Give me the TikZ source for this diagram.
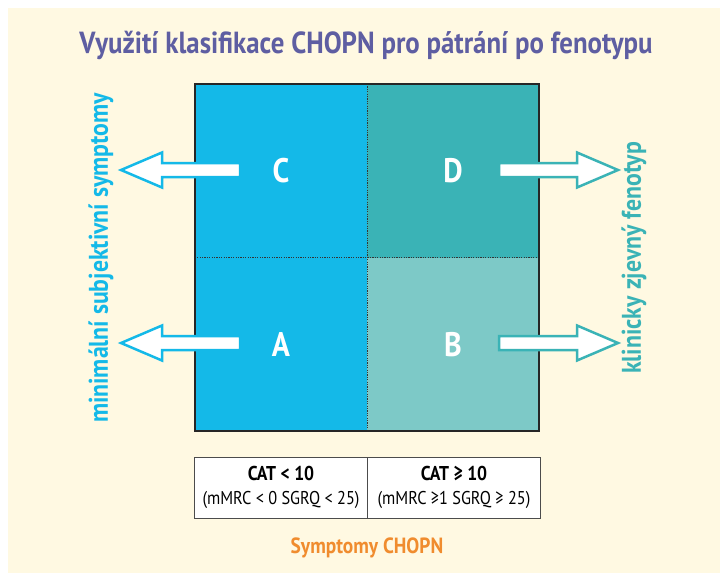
\documentclass[tikz,border=0pt]{standalone}
\usepackage{fontspec}
\setmainfont{PT Sans}
\newfontfamily\narrowfont{PT Sans}[FakeStretch=0.88]
\usetikzlibrary{positioning}

\definecolor{cream}{HTML}{FFF9E2}
\definecolor{titlepurple}{HTML}{5E5EA2}
\definecolor{cyanq}{HTML}{14B9E8}
\definecolor{tealq}{HTML}{3AB3B6}
\definecolor{lightteal}{HTML}{7DC9C7}
\definecolor{orangelab}{HTML}{F08C2E}

\tikzset{
  quad/.style={minimum width=172pt, minimum height=173.5pt, inner sep=0pt, text=white,
    font=\narrowfont\bfseries\fontsize{34}{36}\selectfont},
  cell/.style={draw=black!70, line width=0.8pt, fill=white, minimum width=173pt,
    minimum height=61pt, inner sep=0pt, align=center, font=\narrowfont\fontsize{18.5}{22}\selectfont},
  sidelab/.style={rotate=90, font=\narrowfont\bfseries\fontsize{27}{29}\selectfont},
  fatarrow/.style={fill=white, line width=2.5pt, line join=miter},
  divider/.style={line width=1pt, black!80, dash pattern=on 1.2pt off 1.2pt}
}

\begin{document}
\begin{tikzpicture}[x=1pt, y=-1pt]
  \useasboundingbox (0,0) rectangle (720,573);
  \fill[cream] (8,8) rectangle (720,573);

  % title
  \node[text=titlepurple, font=\narrowfont\bfseries\fontsize{30.5}{32}\selectfont] (title) at (366,45)
    {Využití klasifikace CHOPN pro pátrání po fenotypu};

  % quadrants
  \node[quad, fill=cyanq] (qC) at (281,171) {C};
  \node[quad, fill=tealq] (qD) at (453,171) {D};
  \node[quad, fill=cyanq] (qA) at (281,344.5) {A};
  \node[quad, fill=lightteal] (qB) at (453,344.5) {B};
  \draw[divider] (qC.north east) -- (qA.south east);
  \draw[divider] (qA.north west) -- (qB.north east);
  \draw[line width=2pt, black!85] (qC.north west) rectangle (qB.south east);

  % arrows
  \coordinate (tipC) at (121,170);
  \coordinate (tipA) at (121,343);
  \coordinate (tipD) at (618,170);
  \coordinate (tipB) at (618,343);
  \draw[fatarrow, draw=cyanq] (tipC) -- ++(41,-17.5) -- ++(0,10.5) -- ++(78,0) -- ++(0,14) -- ++(-78,0) -- ++(0,10.5) -- cycle;
  \draw[fatarrow, draw=cyanq] (tipA) -- ++(41,-17.5) -- ++(0,10.5) -- ++(78,0) -- ++(0,14) -- ++(-78,0) -- ++(0,10.5) -- cycle;
  \draw[fatarrow, draw=tealq] (tipD) -- ++(-41,-17.5) -- ++(0,10.5) -- ++(-78,0) -- ++(0,14) -- ++(78,0) -- ++(0,10.5) -- cycle;
  \draw[fatarrow, draw=tealq] (tipB) -- ++(-41,-17.5) -- ++(0,10.5) -- ++(-78,0) -- ++(0,14) -- ++(78,0) -- ++(0,10.5) -- cycle;

  % side labels
  \node[sidelab, text=cyanq] (minlab) at (101,258) {minimální subjektivní symptomy};
  \node[sidelab, text=tealq] (klinlab) at (634,258) {klinicky zjevný fenotyp};

  % table
  \node[cell] (catlow) at (281,487.5) {{\bfseries\fontsize{20}{22}\selectfont CAT < 10}\\[2pt](mMRC < 0 SGRQ < 25)};
  \node[cell] (cathigh) at (454,487.5) {{\bfseries\fontsize{20}{22}\selectfont CAT ≥ 10}\\[2pt](mMRC ≥1 SGRQ ≥ 25)};

  \node[text=orangelab, font=\narrowfont\bfseries\fontsize{22}{24}\selectfont] (symlab) at (367,548) {Symptomy CHOPN};
\end{tikzpicture}
\end{document}
